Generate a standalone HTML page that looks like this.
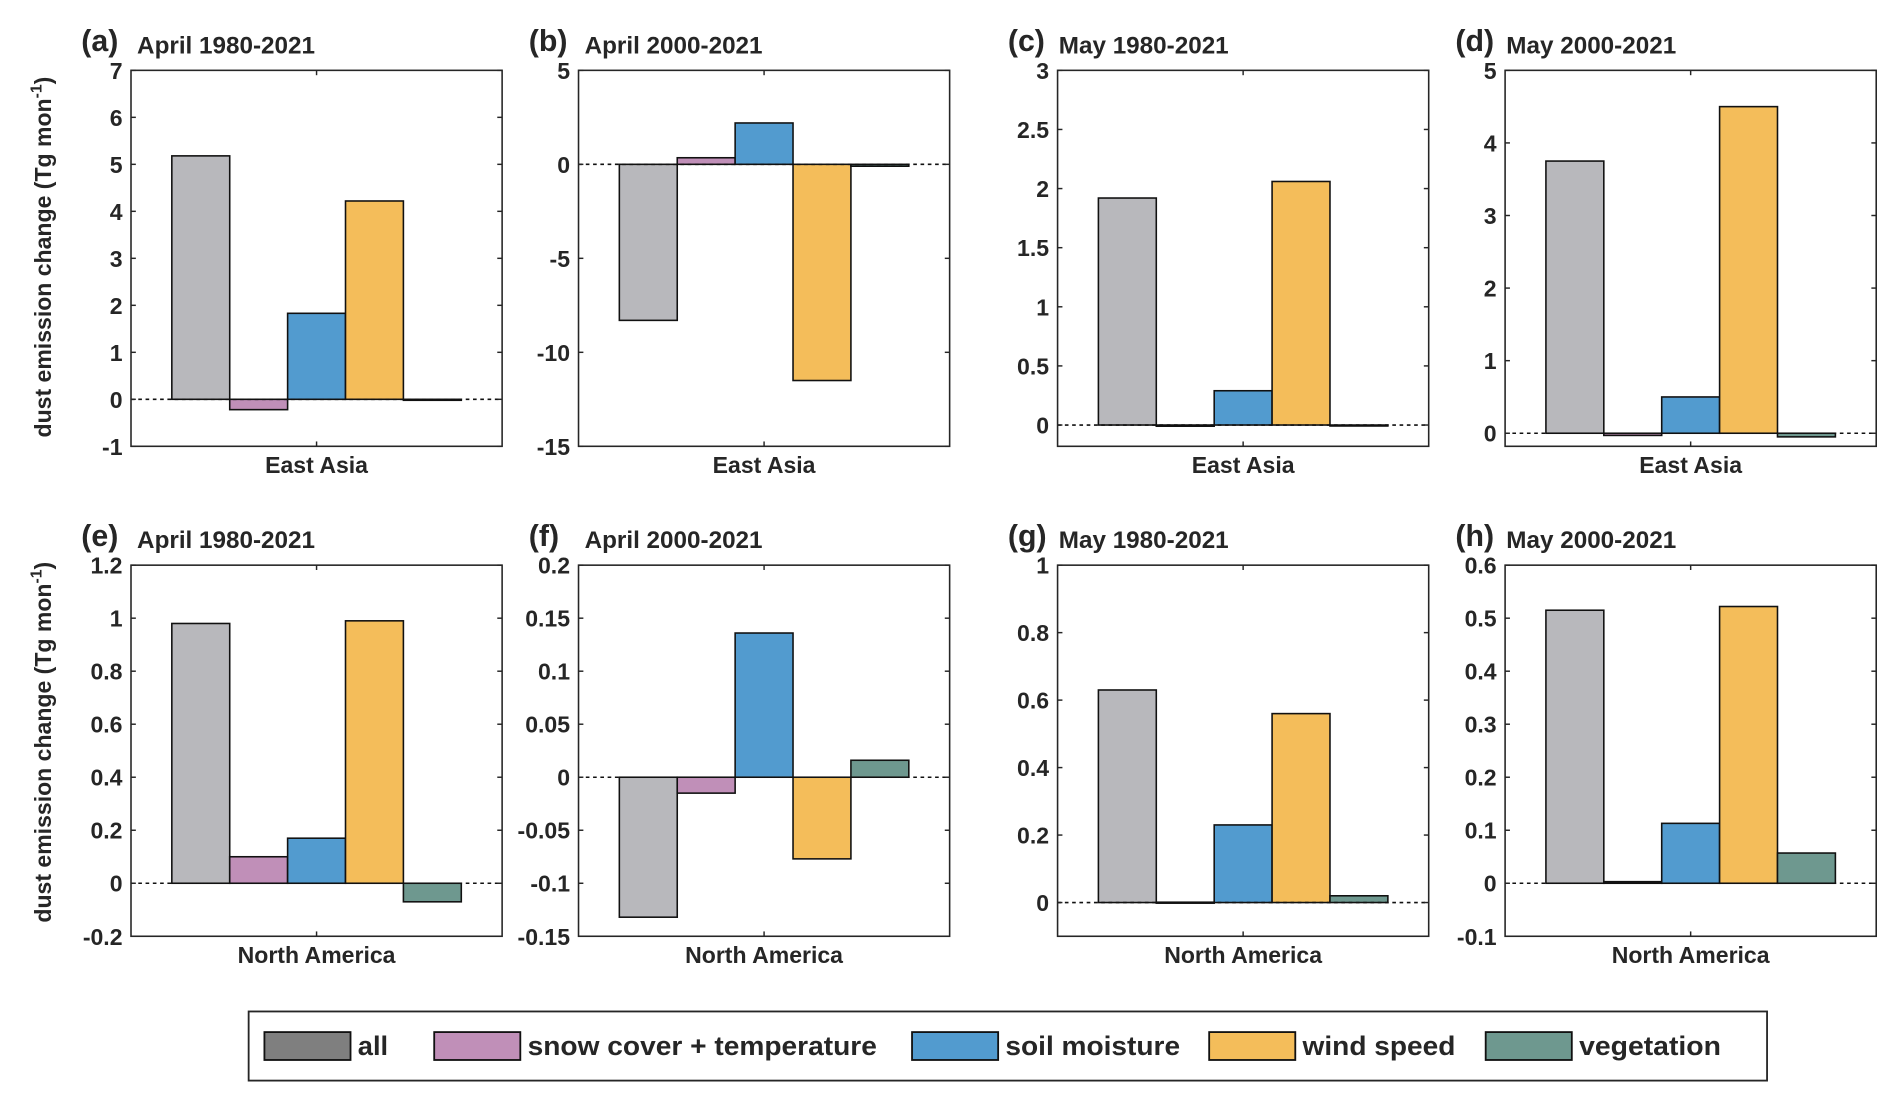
<!DOCTYPE html>
<html><head><meta charset="utf-8"><style>
html,body{margin:0;padding:0;background:#fff}
svg{display:block}
text{font-family:"Liberation Sans",Arial,sans-serif;font-weight:bold;fill:#262626}
</style></head><body>
<svg id="fig" xmlns="http://www.w3.org/2000/svg" width="1892" height="1096" viewBox="0 0 1560 903.7"></svg>
<script>
const categories = ["all","snow cover + temperature","soil moisture","wind speed","vegetation"];
const colors = ["#b8b8bc","#c08fb8","#529bcf","#f4bd5a","#6e988f"];
const panelLabels = ["(a)","(b)","(c)","(d)","(e)","(f)","(g)","(h)"];
const panelTitles = ["April 1980-2021","April 2000-2021","May 1980-2021","May 2000-2021","April 1980-2021","April 2000-2021","May 1980-2021","May 2000-2021"];
const regions = ["East Asia","East Asia","East Asia","East Asia","North America","North America","North America","North America"];
const valuesA = [5.18,-0.22,1.83,4.22,-0.02];
const valuesB = [-8.3,0.35,2.2,-11.5,-0.1];
const valuesC = [1.92,-0.01,0.29,2.06,-0.005];
const valuesD = [3.75,-0.03,0.5,4.5,-0.05];
const valuesE = [0.98,0.10,0.17,0.99,-0.07];
const valuesF = [-0.132,-0.015,0.136,-0.077,0.016];
const valuesG = [0.63,0.001,0.23,0.56,0.02];
const valuesH = [0.515,0.003,0.113,0.522,0.057];
const yMins = [-1,-15,-0.18,-0.18,-0.2,-0.15,-0.1,-0.1];
const yMaxs = [7,5,3,5,1.2,0.2,1,0.6];
const ticksA = ["-1","0","1","2","3","4","5","6","7"];
const ticksB = ["-15","-10","-5","0","5"];
const ticksC = ["0","0.5","1","1.5","2","2.5","3"];
const ticksD = ["0","1","2","3","4","5"];
const ticksE = ["-0.2","0","0.2","0.4","0.6","0.8","1","1.2"];
const ticksF = ["-0.15","-0.1","-0.05","0","0.05","0.1","0.15","0.2"];
const ticksG = ["0","0.2","0.4","0.6","0.8","1"];
const ticksH = ["-0.1","0","0.1","0.2","0.3","0.4","0.5","0.6"];

const allValues=[valuesA,valuesB,valuesC,valuesD,valuesE,valuesF,valuesG,valuesH];
const allTicks=[ticksA,ticksB,ticksC,ticksD,ticksE,ticksF,ticksG,ticksH];
const boxX=[108,477,872,1241];
const NS="http://www.w3.org/2000/svg";
const svg=document.getElementById('fig');
function mk(tag,attrs,parent){const e=document.createElementNS(NS,tag);for(const k in attrs)e.setAttribute(k,attrs[k]);(parent||svg).appendChild(e);return e;}

for(let p=0;p<8;p++){
  const row=p<4?0:1;
  const x0=boxX[p%4], w=306;
  const top=row?466:58, bot=row?772:368;
  const ymin=yMins[p], ymax=yMaxs[p];
  const y=v=>bot-(v-ymin)/(ymax-ymin)*(bot-top);
  const g=mk('g',{});
  
  
  const tl=mk('text',{x:x0-41,y:top-16,'font-size':25},g);tl.textContent=panelLabels[p];
  
  const tt=mk('text',{x:x0+(p%4>=2?1:5),y:top-14,'font-size':20},g);tt.textContent=panelTitles[p];
  
  const bw=w*0.156, gx=x0+w/2-bw*2.5;
  allValues[p].forEach((v,i)=>{
    const ya=y(v), yz=y(0);
    const r=mk('rect',{x:gx+i*bw,y:Math.min(ya,yz),width:bw,height:Math.max(Math.abs(ya-yz),0.8),fill:colors[i],stroke:'#111','stroke-width':1.3},g);
    
    
  });
  const zl=mk('line',{x1:x0,x2:x0+w,y1:y(0),y2:y(0),stroke:'#111','stroke-width':1.3,'stroke-dasharray':'3,3'},g);
  
  const bx=mk('rect',{x:x0,y:top,width:w,height:bot-top,fill:'none',stroke:'#262626','stroke-width':1.3},g);
  
  allTicks[p].forEach(t=>{
    const v=parseFloat(t), ty=y(v);
    mk('line',{x1:x0,x2:x0+4,y1:ty,y2:ty,stroke:'#262626','stroke-width':1.2},g);
    mk('line',{x1:x0+w,x2:x0+w-4,y1:ty,y2:ty,stroke:'#262626','stroke-width':1.2},g);
    const tx=mk('text',{x:x0-7,y:ty+7,'font-size':19,'text-anchor':'end'},g);tx.textContent=t;
    
  });
  mk('line',{x1:x0+w/2,x2:x0+w/2,y1:top,y2:top+4,stroke:'#262626','stroke-width':1.2},g);
  mk('line',{x1:x0+w/2,x2:x0+w/2,y1:bot,y2:bot-4,stroke:'#262626','stroke-width':1.2},g);
  const xl=mk('text',{x:x0+w/2,y:bot+22,'font-size':19,'text-anchor':'middle'},g);xl.textContent=regions[p];
  
}
[212,612].forEach((cy,i)=>{
  const t=mk('text',{x:0,y:0,'font-size':19,'text-anchor':'middle',transform:`translate(42,${cy}) rotate(-90)`});
  t.innerHTML='dust emission change (Tg mon<tspan dy="-8" font-size="13">-1</tspan><tspan dy="8">)</tspan>';
  
});
const lg=mk('g',{});

mk('rect',{x:205,y:834,width:1252,height:57,fill:'#fff',stroke:'#262626','stroke-width':1.5},lg);
const legSw=[218,358,752,997,1225];
const legW=[25,288,144,126,117];
const legCol=["#7f7f7f","#c08fb8","#529bcf","#f4bd5a","#6e988f"];
categories.forEach((c,i)=>{
  const e=mk('g',{},lg);
  
  mk('rect',{x:legSw[i],y:851,width:71,height:23,fill:legCol[i],stroke:'#111','stroke-width':1.5},e);
  const t=mk('text',{x:legSw[i]+77,y:870,'font-size':22,fill:'#000',textLength:legW[i],lengthAdjust:'spacingAndGlyphs'},e);t.textContent=c;
});
</script>
</body></html>
